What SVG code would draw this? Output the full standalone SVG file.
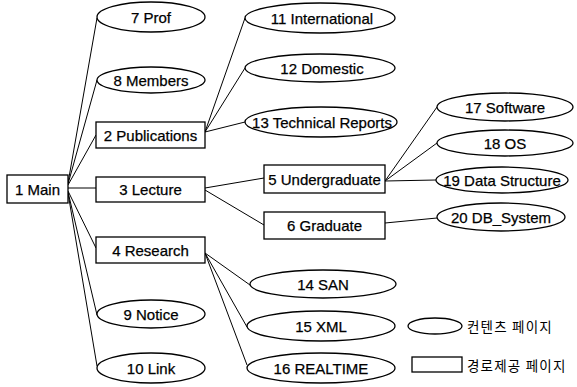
<svg xmlns="http://www.w3.org/2000/svg" width="577" height="387" viewBox="0 0 577 387">
<style>
.n{fill:#fff;stroke:#000;stroke-width:1.3}
.t{font-family:"Liberation Sans",Arial,sans-serif;font-size:15px;fill:#000;stroke:#000;stroke-width:0.25;text-anchor:middle;dominant-baseline:central}
.k{font-family:"Noto Sans CJK KR",sans-serif;font-size:13.5px;letter-spacing:1.2px;fill:#000;dominant-baseline:central}
#edges line{stroke:#000;stroke-width:1}
</style>
<rect width="577" height="387" fill="#fff"/>
<g id="edges">
<line x1="68" y1="183" x2="97" y2="18"/>
<line x1="68" y1="184" x2="97" y2="80"/>
<line x1="68" y1="185" x2="96" y2="135"/>
<line x1="68" y1="188" x2="96" y2="188"/>
<line x1="68" y1="191" x2="96" y2="248"/>
<line x1="68" y1="192" x2="97" y2="315"/>
<line x1="68" y1="193" x2="97" y2="366"/>
<line x1="205" y1="132" x2="245" y2="18"/>
<line x1="205" y1="132" x2="245" y2="68"/>
<line x1="205" y1="132" x2="245" y2="122"/>
<line x1="205" y1="188" x2="264" y2="178"/>
<line x1="205" y1="190" x2="264" y2="225"/>
<line x1="385" y1="181" x2="437" y2="107"/>
<line x1="385" y1="181" x2="437" y2="143"/>
<line x1="385" y1="181" x2="436" y2="180"/>
<line x1="385" y1="223" x2="437" y2="218"/>
<line x1="205" y1="253" x2="250" y2="285"/>
<line x1="205" y1="253" x2="247" y2="327"/>
<line x1="205" y1="253" x2="247" y2="365"/>
</g>
<g id="n1"><rect class="n" x="7" y="175" width="61" height="28"/><text class="t" x="37.5" y="189">1 Main</text></g>
<g id="n2"><rect class="n" x="96" y="122" width="109" height="26"/><text class="t" x="150.5" y="135">2 Publications</text></g>
<g id="n3"><rect class="n" x="96" y="177" width="109" height="25"/><text class="t" x="150.5" y="189.5">3 Lecture</text></g>
<g id="n4"><rect class="n" x="96" y="237" width="109" height="26"/><text class="t" x="150.5" y="250">4 Research</text></g>
<g id="n5"><rect class="n" x="264" y="165" width="121" height="28"/><text class="t" x="324.5" y="179">5 Undergraduate</text></g>
<g id="n6"><rect class="n" x="264" y="212" width="121" height="27"/><text class="t" x="324.5" y="225.5">6 Graduate</text></g>
<g id="n7"><ellipse class="n" cx="151" cy="17" rx="54" ry="15"/><text class="t" x="151" y="17">7 Prof</text></g>
<g id="n8"><ellipse class="n" cx="151" cy="80" rx="54" ry="13"/><text class="t" x="151" y="80">8 Members</text></g>
<g id="n9"><ellipse class="n" cx="151" cy="314" rx="54" ry="14"/><text class="t" x="151" y="314">9 Notice</text></g>
<g id="n10"><ellipse class="n" cx="151" cy="368" rx="54" ry="15"/><text class="t" x="151" y="368">10 Link</text></g>
<g id="n11"><ellipse class="n" cx="320" cy="18" rx="75" ry="15"/><text class="t" x="322" y="18">11 International</text></g>
<g id="n12"><ellipse class="n" cx="320" cy="68" rx="75" ry="14"/><text class="t" x="322" y="68">12 Domestic</text></g>
<g id="n13"><ellipse class="n" cx="321" cy="122" rx="76" ry="15"/><text class="t" x="322" y="122">13 Technical Reports</text></g>
<g id="n14"><ellipse class="n" cx="323" cy="284" rx="73" ry="14"/><text class="t" x="323" y="284">14 SAN</text></g>
<g id="n15"><ellipse class="n" cx="321" cy="326" rx="74" ry="15"/><text class="t" x="321" y="326">15 XML</text></g>
<g id="n16"><ellipse class="n" cx="321" cy="368" rx="74" ry="15"/><text class="t" x="321" y="368">16 REALTIME</text></g>
<g id="n17"><ellipse class="n" cx="505" cy="107" rx="68" ry="14"/><text class="t" x="505" y="107">17 Software</text></g>
<g id="n18"><ellipse class="n" cx="505" cy="143" rx="68" ry="13"/><text class="t" x="505" y="143">18 OS</text></g>
<g id="n19"><ellipse class="n" cx="502" cy="180" rx="66" ry="13"/><text class="t" x="502" y="180">19 Data Structure</text></g>
<g id="n20"><ellipse class="n" cx="501" cy="217" rx="64" ry="14"/><text class="t" x="501" y="217">20 DB_System</text></g>
<g id="legend">
<ellipse class="n" cx="435" cy="326" rx="27" ry="8"/>
<text class="k" x="467" y="326">컨텐츠 페이지</text>
<rect class="n" x="412" y="357" width="50" height="15"/>
<text class="k" x="467" y="365">경로제공 페이지</text>
</g>
</svg>
